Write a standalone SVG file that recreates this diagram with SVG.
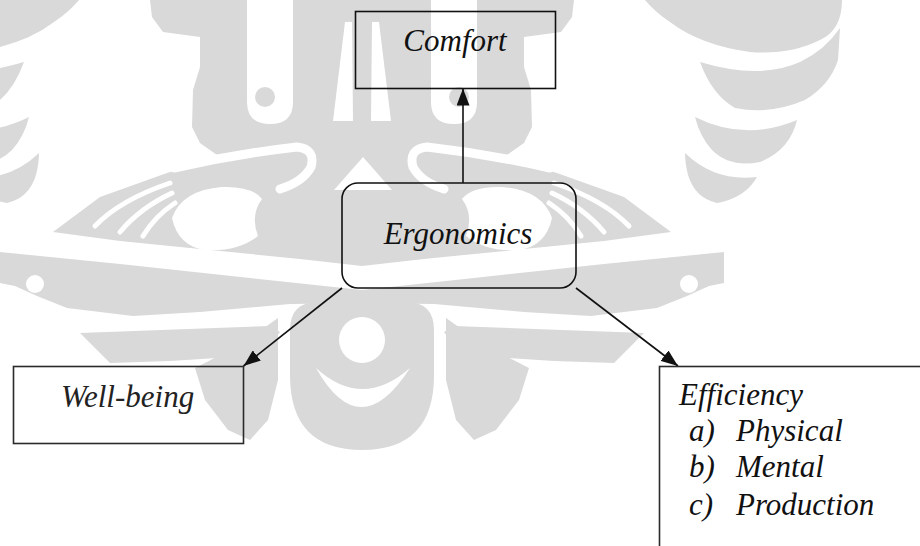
<svg xmlns="http://www.w3.org/2000/svg" xmlns:xlink="http://www.w3.org/1999/xlink" width="920" height="546" viewBox="0 0 920 546">
  <style>
    .wm { fill: #d9d9d9; }
    .wmw { fill: #ffffff; }
    .wmws { fill: none; stroke: #ffffff; stroke-linecap: round; }
    .box { fill: none; stroke: #111; stroke-width: 1.6; }
    .box2 { fill: none; stroke: #2a2a2a; stroke-width: 1.6; }
    .lbl { font-family: "Liberation Serif", "DejaVu Serif", "Noto Serif", Tinos, serif; font-style: italic; font-size: 31px; fill: #111; }
    .edge { fill: none; stroke: #111; stroke-width: 1.6; marker-end: url(#arrow); }
  </style>
  <defs>
    <marker id="arrow" markerUnits="userSpaceOnUse" markerWidth="17" markerHeight="13" refX="17" refY="6.5" orient="auto">
      <path d="M0,0 L17,6.5 L0,13 Z" fill="#111"/>
    </marker>
    <!-- watermark emblem: one half of the grey masses (mirrored about x=362) -->
    <g id="wm-gray-half" class="wm">
      <path d="M150,0 L362,0 L362,266 L300,259 L200,249 L120,241 L53,232 L100,197 L167,173 L200,163 L217,155 L200,143 L192,127 L193,90 L200,67 L200,37 L163,32 L152,17 Z"/>
      <path d="M0,252 L120,264 L250,278 L362,290 L362,303 L290,304 L200,312 L133,316 L67,308 L37,296 L15,286 L0,283 Z"/>
      <path d="M80,333 L270,326 L280,332 L268,348 L233,357 L170,361 L110,363 Z"/>
      <path d="M278,318 L278,380 L268,420 L250,440 L228,430 L205,400 L195,368 L240,345 Z"/>
      <!-- stacked crescents -->
      <path d="M645,0 L842,0 Q842,30 820,40 Q790,55 750,52 Q700,45 670,22 Q655,12 645,0 Z"/>
      <path d="M700,62 Q760,80 800,62 Q825,50 840,28 L838,60 Q830,85 805,100 Q770,115 735,108 Q712,95 700,62 Z"/>
      <path d="M695,117 Q745,142 797,120 Q790,150 760,162 Q730,168 712,150 Q700,137 695,117 Z"/>
      <path d="M685,153 Q715,182 757,177 Q745,198 717,203 Q695,198 688,175 Q685,163 685,153 Z"/>
    </g>
    <!-- watermark emblem: white openings of one half -->
    <g id="wm-white-half">
      <path class="wmw" d="M247,0 L293,0 L293,102 Q293,124 270,124 Q247,124 247,102 Z"/>
      <path class="wmw" d="M345,22 L352,22 L353,121 L333,121 Z"/>
      <path class="wmws" stroke-width="9" d="M174,168 Q235,154 297,147 Q316,149 311,167 Q303,182 280,189"/>
      <path class="wmw" d="M172,218 Q182,190 222,187 Q252,186 262,199 Q250,215 258,236 Q238,252 205,250 Q178,246 172,218 Z"/>
      <path class="wmws" stroke-width="5" d="M95,226 Q120,200 170,183"/>
      <path class="wmws" stroke-width="5" d="M120,232 Q140,208 172,193"/>
      <path class="wmws" stroke-width="5" d="M143,236 Q155,216 175,203"/>
      <circle class="wmw" cx="35" cy="284" r="9"/>
    </g>
  </defs>

  <rect width="920" height="546" fill="#ffffff"/>

  <g id="watermark">
    <use xlink:href="#wm-gray-half"/>
    <use xlink:href="#wm-gray-half" transform="matrix(-1 0 0 1 724 0)"/>
    <path class="wm" d="M290,330 Q290,302 318,302 L406,302 Q434,302 434,330 L434,375 Q434,450 362,450 Q290,450 290,375 Z"/>
    <use xlink:href="#wm-white-half"/>
    <use xlink:href="#wm-white-half" transform="matrix(-1 0 0 1 724 0)"/>
    <polygon class="wmw" points="363,157 334,190 392,190"/>
    <circle class="wmw" cx="362" cy="340" r="23"/>
    <path class="wmw" d="M316,368 Q360,446 410,368 Q362,410 316,368 Z"/>
    <circle class="wm" cx="265" cy="97" r="10"/>
    <circle class="wm" cx="459" cy="97" r="10"/>
  </g>

  <g id="connectors">
    <line class="edge" x1="463" y1="183" x2="463" y2="88.5"/>
    <line class="edge" x1="342" y1="288" x2="243.5" y2="366"/>
    <line class="edge" x1="576" y1="288" x2="678" y2="366"/>
  </g>

  <g id="node-comfort">
    <rect class="box" x="355.5" y="11.5" width="200" height="77"/>
    <text class="lbl" x="455" y="51" text-anchor="middle">Comfort</text>
  </g>

  <g id="node-ergonomics">
    <rect class="box" x="342" y="183" width="234" height="105" rx="16" ry="16"/>
    <text class="lbl" x="458" y="244" text-anchor="middle">Ergonomics</text>
  </g>

  <g id="node-wellbeing">
    <rect class="box2" x="13.5" y="366.5" width="230" height="77"/>
    <text class="lbl" x="61" y="407" style="fill:#222">Well-being</text>
  </g>

  <g id="node-efficiency">
    <rect class="box2" x="659.5" y="366.5" width="300" height="220"/>
    <text class="lbl" x="679" y="405">Efficiency</text>
    <text class="lbl" x="689" y="441">a)</text>
    <text class="lbl" x="736" y="441">Physical</text>
    <text class="lbl" x="689" y="477">b)</text>
    <text class="lbl" x="736" y="477">Mental</text>
    <text class="lbl" x="689" y="515">c)</text>
    <text class="lbl" x="736" y="515">Production</text>
  </g>
</svg>
